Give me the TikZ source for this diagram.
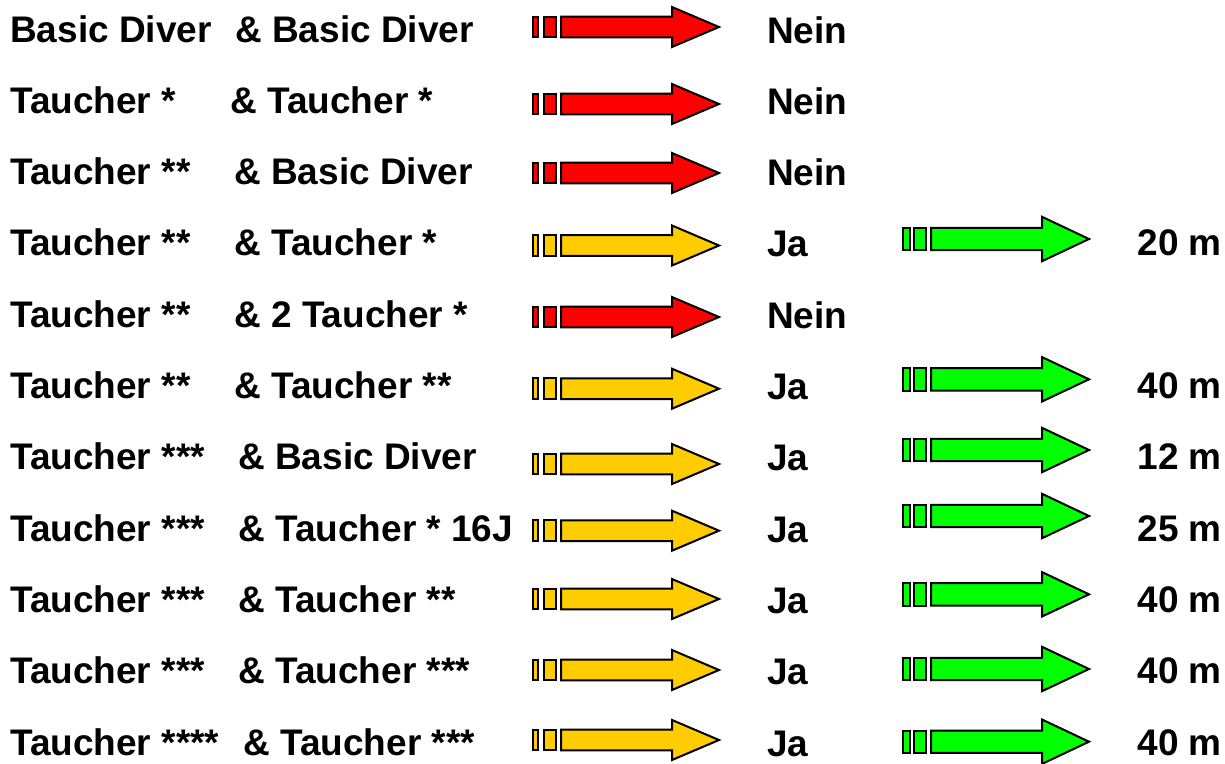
\documentclass[tikz,border=0pt]{standalone}
\usepackage{fontspec}
\setmainfont{Liberation Sans}
\definecolor{arrred}{HTML}{FF0000}
\definecolor{arryel}{HTML}{FFCC00}
\definecolor{arrgrn}{HTML}{00FF00}
\tikzset{
  lbl/.style={inner sep=0pt, anchor=base west, font=\fontsize{37}{41}\selectfont\bfseries},
  dist/.style={inner sep=0pt, anchor=base east, font=\fontsize{37}{41}\selectfont\bfseries},
  arrowline/.style={draw=black, line width=2pt, line join=miter},
  pics/bararrow/.style args={#1/#2/#3/#4}{code={
    \path[arrowline, fill=#1] (0,-#2) rectangle (#4,#2);
    \path[arrowline, fill=#1] (11,-#2) rectangle (23,#2);
    \path[arrowline, fill=#1] (28,-#2) -- (139,-#2) -- (139,-#3) -- (186,0)
        -- (139,#3) -- (139,#2) -- (28,#2) -- cycle;
  }}
}
\begin{document}
\begin{tikzpicture}[x=1pt,y=-1pt]
\useasboundingbox (0,0) rectangle (1225,763);
% baselines
\def\bA{42}\def\bB{113.3}\def\bC{184.6}\def\bD{255.9}\def\bE{327.2}\def\bF{398.5}
\def\bG{469.8}\def\bH{541.1}\def\bI{612.4}\def\bJ{683.7}\def\bK{755}
% left column
\node[lbl] (l1) at (10,\bA) {Basic Diver};
\node[lbl] (l2) at (10,\bB) {Taucher *};
\node[lbl] (l3) at (10,\bC) {Taucher **};
\node[lbl] (l4) at (10,\bD) {Taucher **};
\node[lbl] (l5) at (10,\bE) {Taucher **};
\node[lbl] (l6) at (10,\bF) {Taucher **};
\node[lbl] (l7) at (10,\bG) {Taucher ***};
\node[lbl] (l8) at (10,\bH) {Taucher ***};
\node[lbl] (l9) at (10,\bI) {Taucher ***};
\node[lbl] (l10) at (10,\bJ) {Taucher ***};
\node[lbl] (l11) at (10,\bK) {Taucher ****};
% partner column
\node[lbl] (p1) at (235,\bA) {\& Basic Diver};
\node[lbl] (p2) at (230,\bB) {\& Taucher *};
\node[lbl] (p3) at (234,\bC) {\& Basic Diver};
\node[lbl] (p4) at (234,\bD) {\& Taucher *};
\node[lbl] (p5) at (234,\bE) {\& 2 Taucher *};
\node[lbl] (p6) at (234,\bF) {\& Taucher **};
\node[lbl] (p7) at (238,\bG) {\& Basic Diver};
\node[lbl] (p8) at (238,\bH) {\& Taucher * 16J};
\node[lbl] (p9) at (238,\bI) {\& Taucher **};
\node[lbl] (p10) at (238,\bJ) {\& Taucher ***};
\node[lbl] (p11) at (243,\bK) {\& Taucher ***};
% answer column
\node[lbl] (a1) at (767,\bA+1) {Nein};
\node[lbl] (a2) at (767,\bB+1) {Nein};
\node[lbl] (a3) at (767,\bC+1) {Nein};
\node[lbl] (a4) at (767,\bD+1) {Ja};
\node[lbl] (a5) at (767,\bE+1) {Nein};
\node[lbl] (a6) at (767,\bF+1) {Ja};
\node[lbl] (a7) at (767,\bG+1) {Ja};
\node[lbl] (a8) at (767,\bH+1) {Ja};
\node[lbl] (a9) at (767,\bI+1) {Ja};
\node[lbl] (a10) at (767,\bJ+1) {Ja};
\node[lbl] (a11) at (767,\bK+1) {Ja};
% depth column
\node[dist] (d4) at (1222,\bD) {20 m};
\node[dist] (d6) at (1222,\bF) {40 m};
\node[dist] (d7) at (1222,\bG) {12 m};
\node[dist] (d8) at (1222,\bH) {25 m};
\node[dist] (d9) at (1222,\bI) {40 m};
\node[dist] (d10) at (1222,\bJ) {40 m};
\node[dist] (d11) at (1222,\bK) {40 m};
% decision arrows
\pic at (533,27) {bararrow={arrred/10.3/20/5}};
\pic at (533,104) {bararrow={arrred/10.3/20/5}};
\pic at (533,173) {bararrow={arrred/10.3/20/5}};
\pic at (533,245.5) {bararrow={arryel/10.3/20/5}};
\pic at (533,317) {bararrow={arrred/10.3/20/5}};
\pic at (533,388.7) {bararrow={arryel/10.3/20/5}};
\pic at (533,464) {bararrow={arryel/10.3/20/5}};
\pic at (533,530.7) {bararrow={arryel/10.3/20/5}};
\pic at (533,599) {bararrow={arryel/10.3/20/5}};
\pic at (533,670) {bararrow={arryel/10.3/20/5}};
\pic at (533,740) {bararrow={arryel/10.3/20/5}};
% depth arrows
\pic at (903,239) {bararrow={arrgrn/11.2/22.2/7}};
\pic at (903,379.3) {bararrow={arrgrn/11.2/22.2/7}};
\pic at (903,450) {bararrow={arrgrn/11.2/22.2/7}};
\pic at (903,516) {bararrow={arrgrn/11.2/22.2/7}};
\pic at (903,594.3) {bararrow={arrgrn/11.2/22.2/7}};
\pic at (903,669) {bararrow={arrgrn/11.2/22.2/7}};
\pic at (903,741.7) {bararrow={arrgrn/11.2/22.2/7}};
\end{tikzpicture}
\end{document}
